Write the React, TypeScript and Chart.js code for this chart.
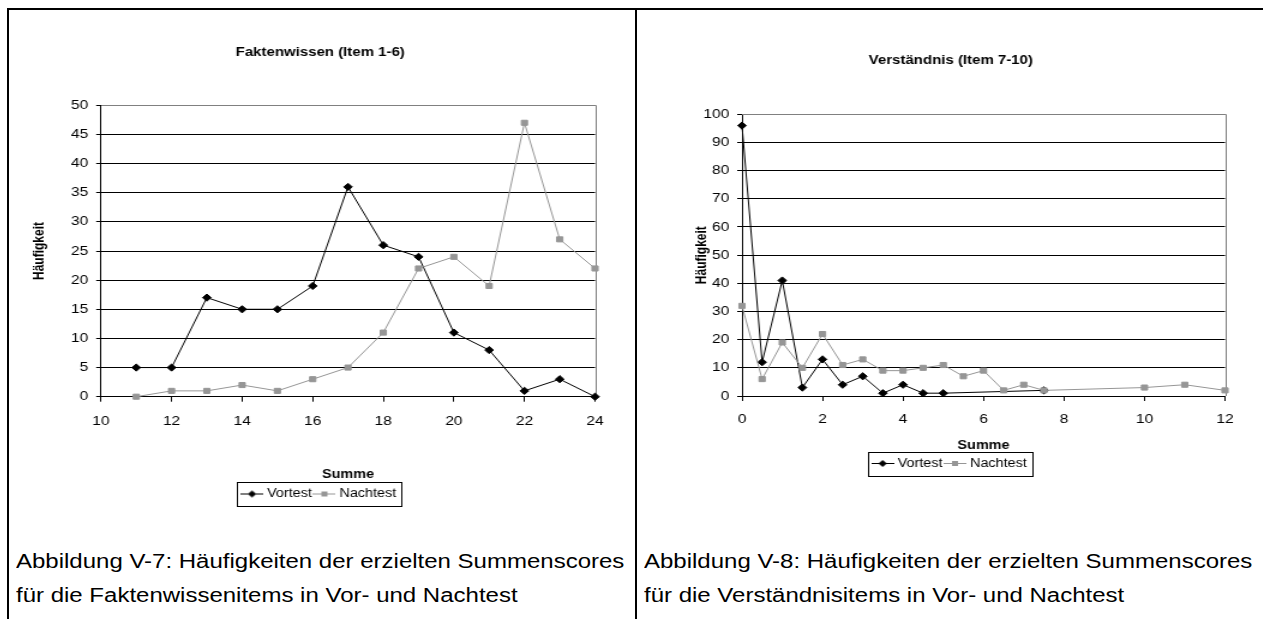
import React, { useEffect, useRef } from "react";
import { Chart, registerables } from "chart.js";

Chart.register(...registerables);

const FONT = '"Liberation Sans", Arial, Helvetica, sans-serif';
const SX = 1.2;
const BLACK = "#000000";
const GREY = "#969696";
const FRAME = "#808080";

// ---------- data ----------
const seriesNames = ["Vortest", "Nachtest"];
const xAxisTitle = "Summe";
const yAxisTitle = "Häufigkeit";

const leftTitle = "Faktenwissen (Item 1-6)";
const leftSumme = [11, 12, 13, 14, 15, 16, 17, 18, 19, 20, 21, 22, 23, 24];
const leftVortest = [5, 5, 17, 15, 15, 19, 36, 26, 24, 11, 8, 1, 3, 0];
const leftNachtest = [0, 1, 1, 2, 1, 3, 5, 11, 22, 24, 19, 47, 27, 22];
const leftXTicks = [10, 12, 14, 16, 18, 20, 22, 24];
const leftYTicks = [0, 5, 10, 15, 20, 25, 30, 35, 40, 45, 50];

const rightTitle = "Verständnis (Item 7-10)";
const rightVortestX = [0, 0.5, 1, 1.5, 2, 2.5, 3, 3.5, 4, 4.5, 5, 7.5];
const rightVortest = [96, 12, 41, 3, 13, 4, 7, 1, 4, 1, 1, 2];
const rightNachtestX = [0, 0.5, 1, 1.5, 2, 2.5, 3, 3.5, 4, 4.5, 5, 5.5, 6, 6.5, 7, 7.5, 10, 11, 12];
const rightNachtest = [32, 6, 19, 10, 22, 11, 13, 9, 9, 10, 11, 7, 9, 2, 4, 2, 3, 4, 2];
const rightXTicks = [0, 2, 4, 6, 8, 10, 12];
const rightYTicks = [0, 10, 20, 30, 40, 50, 60, 70, 80, 90, 100];

const leftCaption = [
  "Abbildung V-7: Häufigkeiten der erzielten Summenscores",
  "für die Faktenwissenitems in Vor- und Nachtest",
];
const rightCaption = [
  "Abbildung V-8: Häufigkeiten der erzielten Summenscores",
  "für die Verständnisitems in Vor- und Nachtest",
];

// ---------- helpers ----------
const ICON_W = 19;
const BOX_W = 13;
const LEGEND_FONT = 12;
const LEGEND_PAD = 4;

function makeIcon(kind: string, color: string) {
  const c = document.createElement("canvas");
  c.width = ICON_W;
  c.height = 9;
  const g = c.getContext("2d")!;
  g.fillStyle = color;
  g.fillRect(0, 4, ICON_W, 1);
  const cx = ICON_W / 2;
  if (kind === "diamond") {
    g.beginPath();
    g.moveTo(cx, 1);
    g.lineTo(cx + 3.5, 4.5);
    g.lineTo(cx, 8);
    g.lineTo(cx - 3.5, 4.5);
    g.closePath();
    g.fill();
  } else {
    g.fillRect(Math.round(cx - 2.5), 2, 5, 5);
  }
  return c;
}

const framePlugin = {
  id: "plotFrame",
  beforeDatasetsDraw(chart: any) {
    const a = chart.chartArea;
    const ctx = chart.ctx;
    ctx.save();
    ctx.strokeStyle = FRAME;
    ctx.lineWidth = 1;
    const t = Math.round(a.top) + 0.5;
    const r = Math.round(a.right) + 0.5;
    ctx.beginPath();
    ctx.moveTo(Math.round(a.left), t);
    ctx.lineTo(r, t);
    ctx.lineTo(r, Math.round(a.bottom));
    ctx.stroke();
    ctx.restore();
  },
  afterDraw(chart: any) {
    const lg = chart.legend;
    if (!lg || !lg.legendHitBoxes || !lg.legendHitBoxes.length) return;
    const hb = lg.legendHitBoxes;
    const over = (ICON_W - BOX_W) / 2;
    const left = Math.min(...hb.map((h: any) => h.left)) - over - 3;
    const right = Math.max(...hb.map((h: any) => h.left + h.width)) + 4;
    const top = hb[0].top - 6;
    const bottom = hb[0].top + hb[0].height + 6;
    const ctx = chart.ctx;
    ctx.save();
    ctx.strokeStyle = BLACK;
    ctx.lineWidth = 1;
    ctx.strokeRect(Math.round(left) + 0.5, Math.round(top) + 0.5, Math.round(right - left), Math.round(bottom - top));
    ctx.restore();
  },
};

type Geo = {
  L: number;
  W: number;
  H: number;
  yAxisW: number;
  rightW: number;
  titlePadTop: number;
  titlePadBottom: number;
  xAxisH: number;
  padBottom: number;
  xTickPad: number;
  xTitlePadBottom: number;
  yTitlePad: number;
};

type Props = {
  geo: Geo;
  title: string;
  vx: number[];
  vy: number[];
  nx: number[];
  ny: number[];
  xTicks: number[];
  yTicks: number[];
};

function LineChart({ geo, title, vx, vy, nx, ny, xTicks, yTicks }: Props) {
  const ref = useRef<HTMLCanvasElement>(null);
  useEffect(() => {
    const icons = [makeIcon("diamond", BLACK), makeIcon("square", GREY)];
    const yMax = yTicks[yTicks.length - 1];
    const tickFont = { family: FONT, size: 13 };
    const titleFont = { family: FONT, size: 12.5, weight: "bold" as const };
    const axisTitleFont = { family: FONT, size: 12, weight: "bold" as const };
    const chart = new Chart(ref.current!, {
      type: "line",
      data: {
        datasets: [
          {
            label: seriesNames[0],
            data: vx.map((x, i) => ({ x, y: vy[i] })),
            borderColor: BLACK,
            backgroundColor: BLACK,
            borderWidth: 1,
            pointStyle: "rectRot",
            pointRadius: 3.6,
            pointBorderWidth: 1,
            pointBorderColor: BLACK,
            pointBackgroundColor: BLACK,
            tension: 0,
            clip: false,
            order: 1,
          },
          {
            label: seriesNames[1],
            data: nx.map((x, i) => ({ x, y: ny[i] })),
            borderColor: GREY,
            backgroundColor: GREY,
            borderWidth: 1,
            pointStyle: "rect",
            pointRadius: 3.6,
            pointBorderWidth: 1,
            pointBorderColor: GREY,
            pointBackgroundColor: GREY,
            tension: 0,
            clip: false,
            order: 0,
          },
        ],
      },
      options: {
        responsive: false,
        animation: false,
        devicePixelRatio: 1,
        layout: { padding: { top: 0, left: 0, right: 0, bottom: geo.padBottom }, autoPadding: false },
        plugins: {
          title: {
            display: true,
            text: title,
            color: BLACK,
            font: titleFont,
            padding: { top: geo.titlePadTop, bottom: geo.titlePadBottom },
          },
          legend: {
            display: true,
            position: "bottom",
            labels: {
              usePointStyle: true,
              pointStyleWidth: BOX_W,
              padding: LEGEND_PAD,
              color: BLACK,
              font: { family: FONT, size: LEGEND_FONT },
              sort: (a: any, b: any) => a.datasetIndex - b.datasetIndex,
              generateLabels: (c: any) =>
                (Chart.defaults.plugins.legend.labels.generateLabels as any)(c).map((l: any) => ({
                  ...l,
                  pointStyle: icons[l.datasetIndex],
                })),
            },
          },
          tooltip: { enabled: false },
        },
        scales: {
          x: {
            type: "linear",
            position: "bottom",
            min: xTicks[0],
            max: xTicks[xTicks.length - 1],
            afterFit: (s: any) => {
              s.height = geo.xAxisH;
            },
            ticks: {
              stepSize: xTicks[1] - xTicks[0],
              color: BLACK,
              font: tickFont,
              padding: geo.xTickPad,
              maxRotation: 0,
              autoSkip: false,
            },
            grid: { drawOnChartArea: false, drawTicks: true, tickLength: 5, tickColor: BLACK, color: BLACK },
            border: { display: true, color: BLACK, width: 1 },
            title: {
              display: true,
              text: xAxisTitle,
              color: BLACK,
              font: axisTitleFont,
              padding: { top: 0, bottom: geo.xTitlePadBottom },
            },
          },
          y: {
            type: "linear",
            position: "left",
            min: yTicks[0],
            max: yMax,
            afterFit: (s: any) => {
              s.width = geo.yAxisW;
            },
            ticks: {
              stepSize: yTicks[1] - yTicks[0],
              color: BLACK,
              font: tickFont,
              padding: 6.6,
            },
            grid: {
              color: (c: any) => (c.tick && c.tick.value === yMax ? "rgba(0,0,0,0)" : BLACK),
              tickColor: BLACK,
              tickLength: 4,
              lineWidth: 1,
            },
            border: { display: true, color: BLACK, width: 1 },
            title: {
              display: true,
              text: yAxisTitle,
              color: BLACK,
              font: axisTitleFont,
              padding: { top: geo.yTitlePad, bottom: 0 },
            },
          },
          yR: {
            type: "linear",
            position: "right",
            display: true,
            afterFit: (s: any) => {
              s.width = geo.rightW;
            },
            ticks: { display: false },
            grid: { display: false, drawTicks: false },
            border: { display: false },
          },
        },
      } as any,
      plugins: [framePlugin],
    });
    return () => chart.destroy();
  }, []);

  return (
    <div
      style={{
        position: "absolute",
        left: geo.L,
        top: 10,
        width: geo.W,
        height: geo.H,
        transform: `scaleX(${SX})`,
        transformOrigin: "0 0",
      }}
    >
      <canvas ref={ref} width={geo.W} height={geo.H} style={{ display: "block" }} />
    </div>
  );
}

const leftGeo: Geo = {
  L: 10,
  W: 517,
  H: 530,
  yAxisW: 75.8,
  rightW: 29.5,
  titlePadTop: 34.8,
  titlePadBottom: 45.5,
  xAxisH: 87.3,
  padBottom: 30,
  xTickPad: 12,
  xTitlePadBottom: 2.3,
  yTitlePad: 17.8,
};

const rightGeo: Geo = {
  L: 640,
  W: 518,
  H: 530,
  yAxisW: 85,
  rightW: 30.5,
  titlePadTop: 42.8,
  titlePadBottom: 46.5,
  xAxisH: 57.5,
  padBottom: 60.5,
  xTickPad: 10.2,
  xTitlePadBottom: 0.3,
  yTitlePad: 44,
};

function Caption({ left, top, text }: { left: number; top: number; text: string }) {
  return (
    <div
      style={{
        position: "absolute",
        left,
        top,
        whiteSpace: "nowrap",
        fontFamily: FONT,
        fontSize: 20,
        lineHeight: "34px",
        color: BLACK,
        transform: `scaleX(${SX})`,
        transformOrigin: "0 0",
      }}
    >
      {text}
    </div>
  );
}

export default function App() {
  return (
    <div
      style={{
        position: "absolute",
        left: 0,
        top: 0,
        width: 1263,
        height: 619,
        background: "#ffffff",
        overflow: "hidden",
      }}
    >
      <div style={{ position: "absolute", left: 7, top: 8, width: 1256, height: 2, background: BLACK }} />
      <div style={{ position: "absolute", left: 7, top: 8, width: 2, height: 611, background: BLACK }} />
      <div style={{ position: "absolute", left: 635, top: 8, width: 2, height: 611, background: BLACK }} />

      <LineChart
        geo={leftGeo}
        title={leftTitle}
        vx={leftSumme}
        vy={leftVortest}
        nx={leftSumme}
        ny={leftNachtest}
        xTicks={leftXTicks}
        yTicks={leftYTicks}
      />
      <LineChart
        geo={rightGeo}
        title={rightTitle}
        vx={rightVortestX}
        vy={rightVortest}
        nx={rightNachtestX}
        ny={rightNachtest}
        xTicks={rightXTicks}
        yTicks={rightYTicks}
      />

      <Caption left={16} top={544} text={leftCaption[0]} />
      <Caption left={16} top={578} text={leftCaption[1]} />
      <Caption left={644} top={544} text={rightCaption[0]} />
      <Caption left={644} top={578} text={rightCaption[1]} />
    </div>
  );
}
